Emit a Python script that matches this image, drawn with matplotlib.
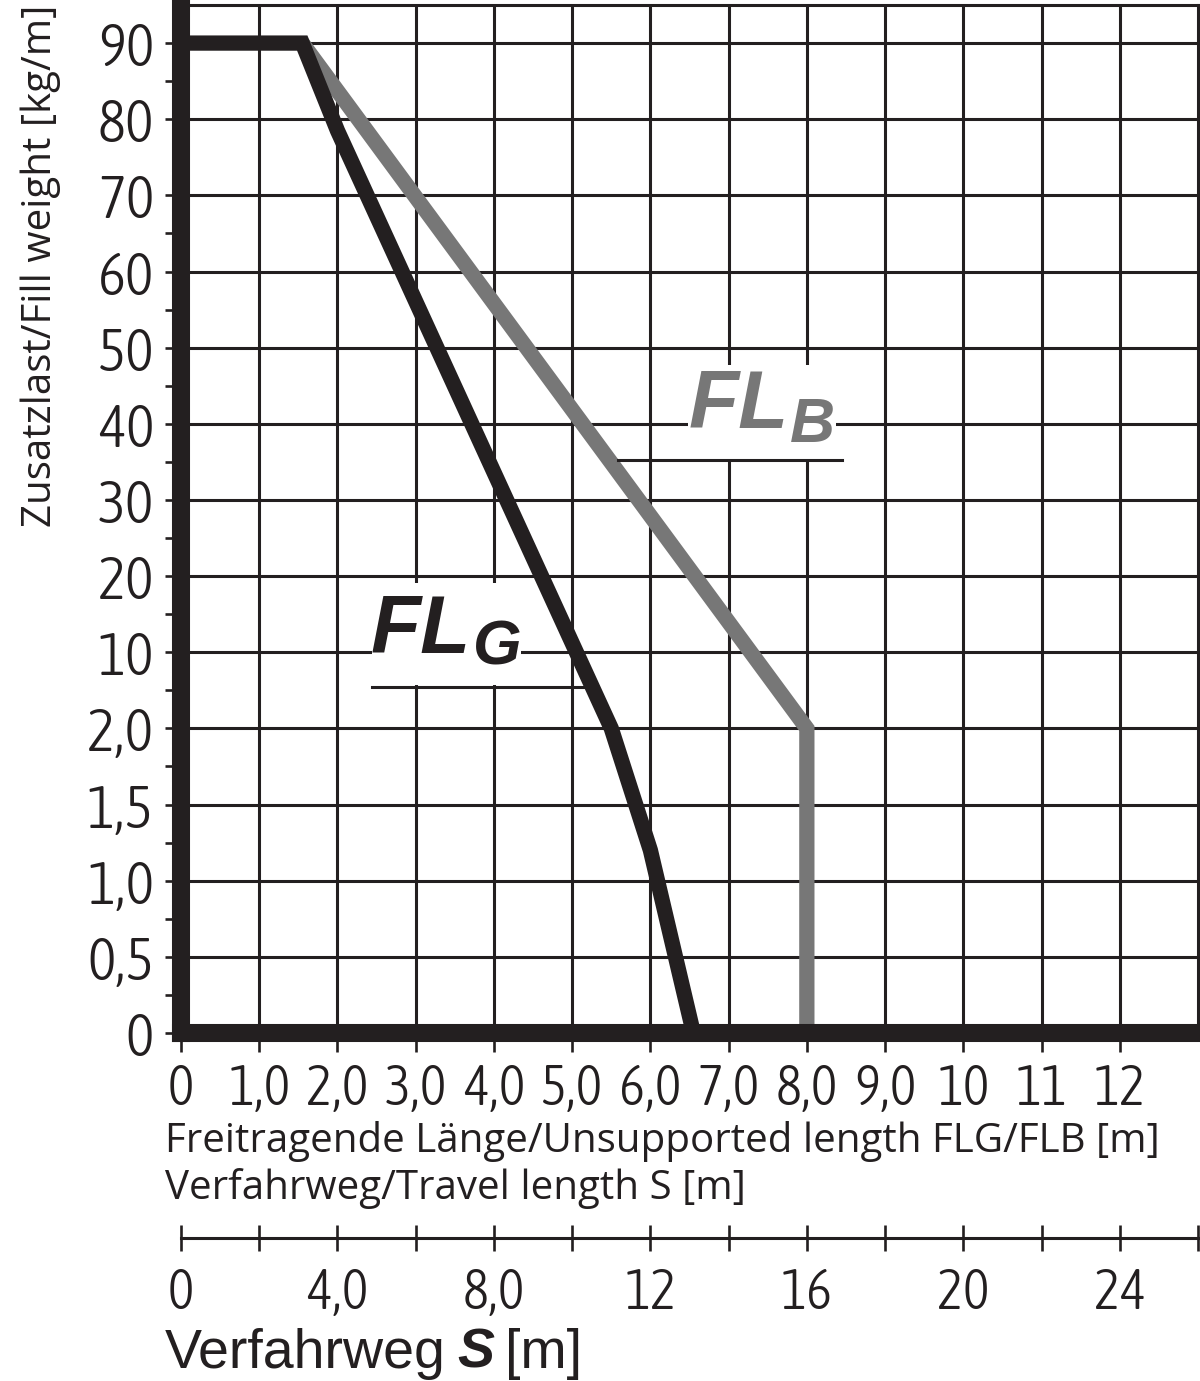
import matplotlib
matplotlib.use('Agg')
import matplotlib.pyplot as plt
import numpy as np
from matplotlib import font_manager
from matplotlib.patches import Rectangle

INK = '#231f20'
GREY = '#777777'

# load curves (length in m, fill weight in kg/m)
flg_length = [0, 1.55, 2.0, 5.5, 6.0, 6.55]
flg_load = [90, 90, 78.5, 2.0, 1.2, 0]
flb_length = [1.55, 8.0, 8.0]
flb_load = [90, 2.0, 0]

y_ticks = [0, 0.5, 1.0, 1.5, 2.0, 10, 20, 30, 40, 50, 60, 70, 80, 90]
y_labels = ['0', '0,5', '1,0', '1,5', '2,0', '10', '20', '30', '40', '50',
            '60', '70', '80', '90']
y_minor = [0.25, 0.75, 1.25, 1.75, 6, 15, 25, 35, 45, 55, 65, 85]
x_ticks = list(range(13))
x_labels = ['0', '1,0', '2,0', '3,0', '4,0', '5,0', '6,0', '7,0', '8,0',
            '9,0', '10', '11', '12']
s_ticks = list(range(0, 27, 2))
s_labels = ['0', '', '4,0', '', '8,0', '', '12', '', '16', '', '20', '',
            '24', '']

# look for a narrow face for the numbers, the original uses a condensed one
WEIGHTS = {'thin': 100, 'extra light': 200, 'light': 300, 'normal': 400,
           'regular': 400, 'book': 400, 'medium': 500, 'bold': 700}


def weight_num(w):
    return w if isinstance(w, int) else WEIGHTS.get(str(w).lower(), 400)


fonts = font_manager.fontManager.ttflist
narrow = [f for f in fonts
          if ('Narrow' in f.name or 'Condensed' in f.name) and f.style == 'normal']
if narrow:
    pick = sorted(narrow, key=lambda f: (abs(weight_num(f.weight) - 300), f.name))[0]
    TICK_FONT, TICK_WEIGHT = pick.name, weight_num(pick.weight)
    XSIZE, YSIZE = 40, 43
else:
    TICK_FONT, TICK_WEIGHT = 'Roboto', 300
    XSIZE, YSIZE = 33, 40
LABEL_FONT = 'Open Sans'


def fwd(y):
    # piecewise axis: 0..2 in 0.5 steps, 2..10 one step, then 10 per step
    y = np.asarray(y, dtype=float)
    return np.where(y <= 2, y / 0.5,
                    np.where(y <= 10, 4 + (y - 2) / 8, 5 + (y - 10) / 10))


def inv(i):
    i = np.asarray(i, dtype=float)
    return np.where(i <= 4, i * 0.5,
                    np.where(i <= 5, 2 + (i - 4) * 8, 10 + (i - 5) * 10))


fig = plt.figure(figsize=(12, 13.81), dpi=100)
W, H = 1200, 1381
ax = fig.add_axes([181 / W, 348 / H, 1017 / W, 1028 / H])
ax.set_yscale('function', functions=(fwd, inv))
ax.set_xlim(0, 13)
ax.set_ylim(0, 95)

ax.set_xticks(x_ticks)
ax.set_xticklabels(x_labels)
ax.set_yticks(y_ticks)
ax.set_yticklabels(y_labels)
ax.set_yticks(y_minor, minor=True)
ax.set_xticks([], minor=True)

ax.set_axisbelow(True)
ax.grid(True, which='major', color=INK, lw=2.2)

ax.tick_params(axis='y', which='both', direction='out', length=11.5,
               width=1.9, color=INK, pad=8, labelsize=YSIZE, labelcolor=INK)
ax.tick_params(axis='x', which='major', direction='out', length=14,
               width=1.9, color=INK, pad=7, labelsize=XSIZE, labelcolor=INK)
for lab in ax.get_xticklabels() + ax.get_yticklabels():
    lab.set_fontfamily(TICK_FONT)
    lab.set_fontweight(TICK_WEIGHT)

for side in ['left', 'bottom']:
    ax.spines[side].set_linewidth(13)
    ax.spines[side].set_color(INK)
    ax.spines[side].set_capstyle('projecting')
    ax.spines[side].set_zorder(5)
for side in ['top', 'right']:
    ax.spines[side].set_linewidth(2.2)
    ax.spines[side].set_color(INK)

ax.plot(flb_length, flb_load, color=GREY, lw=11, solid_joinstyle='miter',
        solid_capstyle='butt', zorder=3)
ax.plot(flg_length, flg_load, color=INK, lw=11, solid_joinstyle='miter',
        solid_capstyle='butt', zorder=3.5)

# labels on white patches that cut the grid
ax.add_patch(Rectangle((0.188, 0.3385), 0.146, 0.099, transform=ax.transAxes,
                       facecolor='white', edgecolor='none', zorder=2))
ax.add_patch(Rectangle((0.4985, 0.557), 0.146, 0.093, transform=ax.transAxes,
                       facecolor='white', edgecolor='none', zorder=2))

lab_kw = dict(family='Liberation Sans', weight='bold', style='italic',
              va='baseline', ha='left', transform=ax.transAxes, zorder=4)
ax.text(0.186, 0.3696, 'FL', size=59, color=INK, **lab_kw)
ax.text(0.287, 0.358, 'G', size=45, color=INK, **lab_kw)
ax.plot([0.188, 0.395], [0.3366, 0.3366], color=INK, lw=2.2,
        transform=ax.transAxes, zorder=4)

ax.text(0.499, 0.5885, 'FL', size=59, color=GREY, **lab_kw)
ax.text(0.599, 0.575, 'B', size=45, color=GREY, **lab_kw)
ax.plot([0.4297, 0.650], [0.5574, 0.5574], color=INK, lw=2.2,
        transform=ax.transAxes, zorder=4)

# axis titles
fig.text(0.017, 1 - 527 / H, 'Zusatzlast/Fill weight [kg/m]', rotation=90,
         ha='left', va='bottom', family=LABEL_FONT, size=29, color=INK)
fig.text(165 / W, 1 - 1152 / H,
         'Freitragende Länge/Unsupported length FLG/FLB [m]',
         ha='left', va='baseline', family=LABEL_FONT, size=29, color=INK)
fig.text(165 / W, 1 - 1199 / H, 'Verfahrweg/Travel length S [m]',
         ha='left', va='baseline', family=LABEL_FONT, size=29, color=INK)

# travel length scale S = 2 x FL
ax2 = fig.add_axes([181 / W, (H - 1238) / H, 1017 / W, 0.0001])
ax2.set_xlim(0, 26)
ax2.set_xticks(s_ticks)
ax2.set_xticklabels(s_labels)
ax2.set_yticks([])
ax2.patch.set_visible(False)
for side in ['left', 'right', 'top']:
    ax2.spines[side].set_visible(False)
ax2.spines['bottom'].set_linewidth(2.2)
ax2.spines['bottom'].set_color(INK)
ax2.tick_params(axis='x', direction='inout', length=18.7, width=1.9,
                color=INK, pad=11, labelsize=XSIZE, labelcolor=INK)
for lab in ax2.get_xticklabels():
    lab.set_fontfamily(TICK_FONT)
    lab.set_fontweight(TICK_WEIGHT)

t1 = fig.text(165 / W, 1 - 1368 / H, 'Verfahrweg', ha='left', va='baseline',
              family='Liberation Sans', size=40, color=INK)
t2 = fig.text(0, 0, 'S', family='Liberation Sans', weight='bold',
              style='italic', size=40, color=INK)
t3 = fig.text(0, 0, '[m]', family='Liberation Sans', size=40, color=INK)
fig.canvas.draw()
r = fig.canvas.get_renderer()
bb = t1.get_window_extent(r)
t2.set_position(((bb.x1 + 11) / W, 1 - 1368 / H))
t2.set_va('baseline')
bb2 = t2.get_window_extent(r)
t3.set_position(((bb2.x1 + 11) / W, 1 - 1368 / H))
t3.set_va('baseline')

fig.savefig('out.png', dpi=100)
